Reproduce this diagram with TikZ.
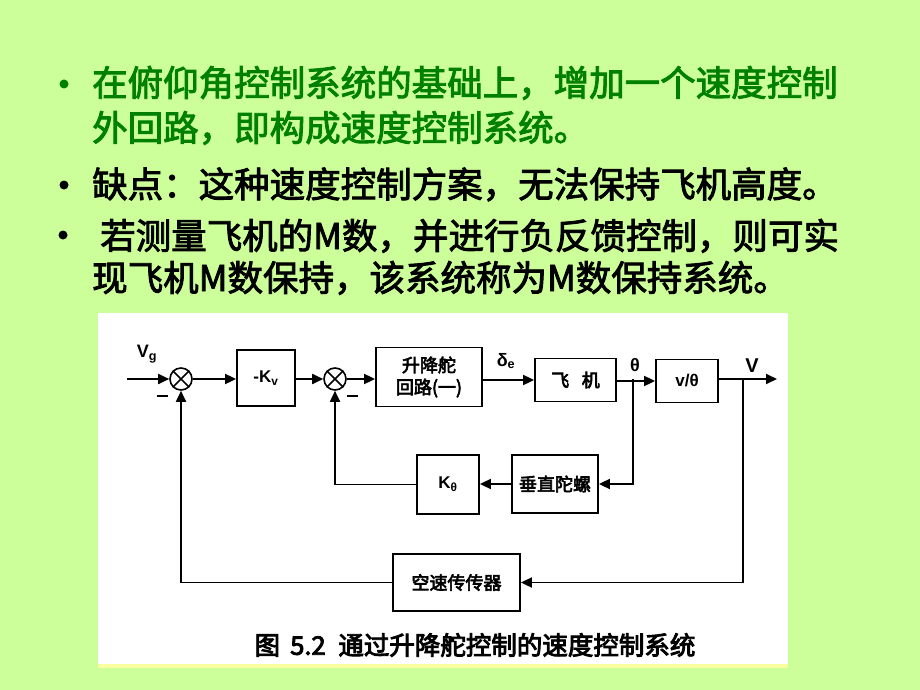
\documentclass[tikz,border=0pt]{standalone}
\usepackage{fontspec}
\setmainfont{Liberation Sans}
\newfontfamily\cjk[FakeBold=2.5]{Noto Sans CJK SC}
\newfontfamily\cjkb[FakeBold=3.5]{Noto Sans CJK SC}
\usetikzlibrary{arrows.meta}
\definecolor{bg}{RGB}{204,255,153}
\definecolor{tgreen}{RGB}{0,128,0}
\definecolor{strip}{RGB}{250,255,160}
\begin{document}
\begin{tikzpicture}[x=1pt,y=-1pt,
  wire/.style={line width=1.8pt},
  arr/.style={line width=1.8pt,-{Triangle[length=11pt,width=10pt]}},
  blk/.style={draw,line width=1.8pt,inner sep=0pt,align=center,font=\cjkb\fontsize{18}{22}\selectfont},
  sumj/.style={draw,circle,line width=1.6pt,minimum size=22pt,inner sep=0pt},
  lbl/.style={inner sep=0pt,font=\bfseries\fontsize{18}{20}\selectfont},
  slide/.style={anchor=base west,inner sep=0pt,font=\cjk\fontsize{35.5}{40}\selectfont},
  bulletdot/.style={fill,circle,inner sep=0pt,minimum size=9pt}
]
\fill[bg] (0,0) rectangle (920,690);
\useasboundingbox (0,0) rectangle (920,690);
\fill[white] (98,313) rectangle (788,664);
\fill[strip] (98,664) rectangle (788,668);

% slide text
\node[bulletdot,tgreen] (b1) at (64,84) {};
\node[slide,text=tgreen] (t1) at (92,96) {在俯仰角控制系统的基础上，增加一个速度控制};
\node[slide,text=tgreen] (t2) at (92,141) {外回路，即构成速度控制系统。};
\node[bulletdot,black] (b2) at (64,185) {};
\node[slide] (t3) at (92,197.5) {缺点：这种速度控制方案，无法保持飞机高度。};
\node[bulletdot,black] (b3) at (63,235) {};
\node[slide] (t4) at (100,249) {若测量飞机的M数，并进行负反馈控制，则可实};
\node[slide] (t5) at (92,291) {现飞机M数保持，该系统称为M数保持系统。};

% diagram
\coordinate (in) at (127,379);
\node[sumj] (s1) at (181,379) {};
\draw[line width=1.6pt] (s1.45) -- (s1.225) (s1.135) -- (s1.315);
\node[blk,minimum width=58pt,minimum height=56pt,font=\bfseries\fontsize{17}{20}\selectfont] (kv) at (266,378) {-K\textsubscript{v}};
\node[sumj] (s2) at (335,379) {};
\draw[line width=1.6pt] (s2.45) -- (s2.225) (s2.135) -- (s2.315);
\node[blk,minimum width=106pt,minimum height=59pt] (el) at (429,377) {升降舵\\回路(一)};
\node[blk,minimum width=81pt,minimum height=43pt] (pl) at (575.5,380) {飞\hspace{0.7em}机};
\node[blk,minimum width=62pt,minimum height=43pt,font=\bfseries\fontsize{17}{20}\selectfont] (vt) at (687,381) {v/θ};
\coordinate (out) at (777,379);
\coordinate (bt) at (633,379);
\coordinate (bv) at (743,379);
\node[blk,minimum width=86pt,minimum height=58pt] (gy) at (555,484) {垂直陀螺};
\node[blk,minimum width=62pt,minimum height=59pt,font=\bfseries\fontsize{17}{20}\selectfont] (kt) at (448,484.5) {K\textsubscript{θ}};
\node[blk,minimum width=127pt,minimum height=57pt] (as) at (456.5,582.5) {空速传传器};

\draw[arr] (in) -- (s1.west);
\draw[arr] (s1.east) -- (s1.east -| kv.west);
\draw[arr] (kv.east |- s2.west) -- (s2.west);
\draw[arr] (s2.east) -- (s2.east -| el.west);
\draw[arr] (el.east |- pl.west) -- (pl.west);
\draw[arr] (pl.east |- vt.west) -- (vt.west);
\draw[arr] (vt.east |- out) -- (out);
\draw[arr] (bt) |- (gy.east);
\draw[arr] (gy.west) -- (gy.west -| kt.east);
\draw[arr] (kt.west) -| (s2.south);
\draw[arr] (bv) |- (as.east);
\draw[arr] (as.west) -| (s1.south);

\node[lbl] (vg) at (147,354) {V\textsubscript{g}};
\node[inner sep=0pt] (m1) at (162,396) {\rule{11pt}{1.8pt}};
\node[inner sep=0pt] (m2) at (352,396) {\rule{11pt}{1.8pt}};
\node[lbl] (de) at (506,361) {δ\textsubscript{e}};
\node[lbl] (th) at (635,365) {θ};
\node[lbl,font=\bfseries\fontsize{20}{22}\selectfont] (vv) at (752,366) {V};

\node[inner sep=0pt,font=\cjkb\fontsize{25.5}{28}\selectfont] (cap) at (475,645) {图\hspace{0.4em}5.2\hspace{0.5em}通过升降舵控制的速度控制系统};
\end{tikzpicture}
\end{document}
